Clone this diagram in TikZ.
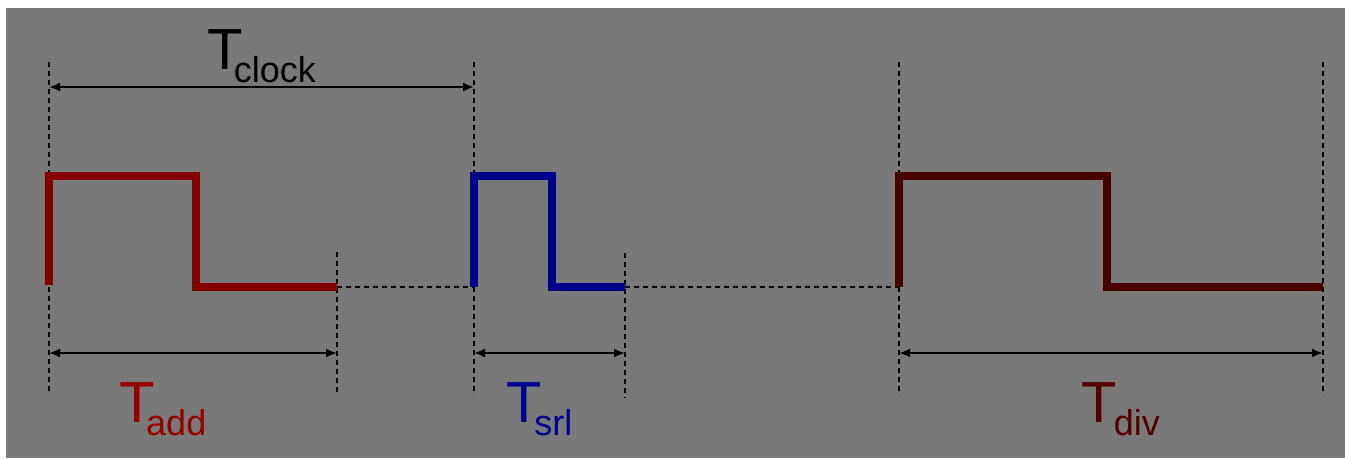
\documentclass[tikz,border=0pt]{standalone}
\usepackage{fontspec}
\setmainfont{Liberation Sans}
\usetikzlibrary{arrows.meta}

\definecolor{bggray}{HTML}{797979}
\definecolor{addline}{HTML}{820000}
\definecolor{addtext}{HTML}{960000}
\definecolor{srlline}{HTML}{000088}
\definecolor{srltext}{HTML}{00008E}
\definecolor{divline}{HTML}{480000}
\definecolor{divtext}{HTML}{520000}

% T with a lowered subscript, kern given as first argument
\newcommand{\tlab}[2]{{\fontsize{29}{29}\selectfont T}\kern#1\raisebox{-6.5pt}{\fontsize{18}{18}\selectfont #2}}

\tikzset{
  guide/.style={dashed,dash pattern=on 2.5pt off 2pt,line width=.85pt},
  span/.style={{Latex[length=5.5pt,width=4.5pt]}-{Latex[length=5.5pt,width=4.5pt]},line width=1pt},
  pulse/.style={line width=4pt},
  lab/.style={inner sep=0pt,anchor=base west}
}

\begin{document}
\begin{tikzpicture}[x=.5pt,y=-.5pt]
\useasboundingbox (0,0) rectangle (1345,459);
\fill[white] (0,0) rectangle (1345,459);
\fill[bggray] (6,8) rectangle (1345,458);

% guide points
\coordinate (a0) at (49,87);   \coordinate (a1) at (474,87);
\coordinate (b0) at (49,353);  \coordinate (b1) at (337,353);
\coordinate (c0) at (474,353); \coordinate (c1) at (625,353);
\coordinate (d0) at (899,353); \coordinate (d1) at (1323,353);

% dashed guides
\draw[guide] (49,62)--(49,393);
\draw[guide] (337,252)--(337,393);
\draw[guide] (474,62)--(474,395);
\draw[guide] (625,253)--(625,398);
\draw[guide] (899,62)--(899,395);
\draw[guide] (1323,62)--(1323,395);
\draw[guide] (337,287)--(474,287);
\draw[guide] (625,287)--(899,287);

% pulses
\draw[pulse,addline] (49,285)--(49,176)--(196,176)--(196,287)--(337,287);
\draw[pulse,srlline] (474,287)--(474,176)--(552,176)--(552,287)--(625,287);
\draw[pulse,divline] (899,287)--(899,176)--(1107,176)--(1107,287)--(1323,287);

% spans
\draw[span] (a0)--(a1);
\draw[span] (b0)--(b1);
\draw[span] (c0)--(c1);
\draw[span] (d0)--(d1);

% labels
\node[lab] (tclock) at (207,70) {\tlab{-4.5pt}{clock}};
\node[lab,text=addtext] (tadd) at (119,423) {\tlab{-4.3pt}{add}};
\node[lab,text=srltext] (tsrl) at (506,423) {\tlab{-3.7pt}{srl}};
\node[lab,text=divtext] (tdiv) at (1081,423) {\tlab{-1.5pt}{div}};
\end{tikzpicture}
\end{document}
